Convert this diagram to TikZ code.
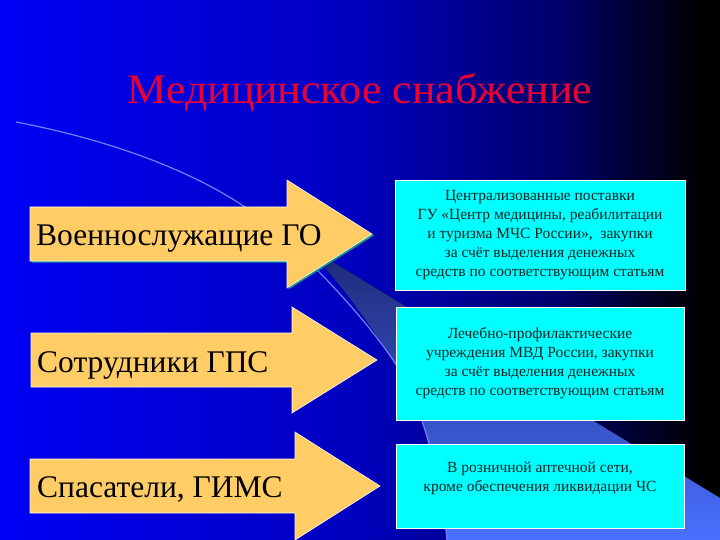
\documentclass[tikz,border=0pt]{standalone}
\usepackage{fontspec}
\setmainfont{Liberation Serif}
\usetikzlibrary{calc}
\definecolor{bgA}{RGB}{0,0,245}
\definecolor{bgB}{RGB}{0,0,190}
\definecolor{bgC}{RGB}{0,0,105}
\definecolor{beamtop}{RGB}{32,44,125}
\definecolor{beambot}{RGB}{74,112,255}
\definecolor{arcline}{RGB}{110,130,255}
\definecolor{arrowfill}{RGB}{255,204,102}
\definecolor{boxfill}{RGB}{0,255,255}
\definecolor{titlered}{RGB}{235,0,50}
\definecolor{boxtext}{RGB}{15,35,35}
\definecolor{tealedge}{RGB}{20,150,140}
\pgfdeclarehorizontalshading{bgshade}{100bp}{color(0bp)=(bgA); color(25bp)=(bgA); color(50.6bp)=(bgB); color(64.9bp)=(bgC); color(75bp)=(black); color(100bp)=(black)}
\tikzset{
  arrowshape/.style={fill=arrowfill, draw=white!85!arrowfill, line width=0.6pt},
  arrowtext/.style={anchor=base west, inner sep=0pt, font=\fontsize{31.5}{31.5}\selectfont, text=black},
  infobox/.style={draw=white, line width=0.8pt, fill=boxfill, inner sep=0pt, align=center,
    font=\fontsize{15.5}{19}\selectfont, text=boxtext},
  infotext/.style={align=center, inner sep=0pt, font=\fontsize{15.5}{19}\selectfont, text=boxtext}
}
\begin{document}
\begin{tikzpicture}[x=1pt,y=-1pt]
\useasboundingbox (0,0) rectangle (720,540);
% background
\fill[shading=bgshade] (0,0) rectangle (702,540);
\fill[black] (702,0) rectangle (720,540);
% light beam
\fill[top color=beamtop, bottom color=beambot]
  (333,262) -- (720,498) -- (720,540) -- (447,540)
  .. controls (440,470) and (420,400) .. (395,363)
  .. controls (360,310) and (340,285) .. (325,268) -- cycle;
% thin arc
\draw[arcline, line width=1.2pt]
  (16,122) .. controls (110,140) and (190,170) .. (245,207)
  .. controls (290,238) and (360,310) .. (395,363)
  .. controls (420,400) and (440,470) .. (447,540);
% title
\node[inner sep=0pt, text=titlered] (title) at (360,93) {\resizebox{464pt}{\height}{\fontsize{42}{42}\selectfont Медицинское снабжение}};
% arrows
\fill[tealedge] (31.5,208.5) -- (288.5,208.5) -- (288.5,181.5) -- (374,235.5) -- (288.5,289.5) -- (288.5,262.5) -- (31.5,262.5) -- cycle;
\draw[arrowshape] (30,207) -- (287,207) -- (287,180) -- (372,234) -- (287,288) -- (287,261) -- (30,261) -- cycle;
\draw[arrowshape] (31,333) -- (292,333) -- (292,307) -- (377,360) -- (292,413) -- (292,387) -- (31,387) -- cycle;
\draw[arrowshape] (30,459) -- (295,459) -- (295,432) -- (380,486) -- (295,540) -- (295,513) -- (30,513) -- cycle;
\node[arrowtext] (a1) at (36,245) {Военнослужащие ГО};
\node[arrowtext] (a2) at (37,372) {Сотрудники ГПС};
\node[arrowtext] (a3) at (37,497) {Спасатели, ГИМС};
% boxes
\node[infobox, minimum width=290pt, minimum height=110pt] (b1) at (540,235)
  {Централизованные поставки\\ГУ «Центр медицины, реабилитации\\и туризма МЧС России»,\ \ закупки\\за счёт выделения денежных\\средств по соответствующим статьям};
\node[infobox, minimum width=288pt, minimum height=113pt] (b2) at (540,363.5)
  {Лечебно-профилактические\\учреждения МВД России, закупки\\за счёт выделения денежных\\средств по соответствующим статьям};
\node[infobox, minimum width=288pt, minimum height=84pt] (b3) at (540,486) {};
\node[infotext] (b3t) at (540,478) {В розничной аптечной сети,\\кроме обеспечения ликвидации ЧС};
\end{tikzpicture}
\end{document}
